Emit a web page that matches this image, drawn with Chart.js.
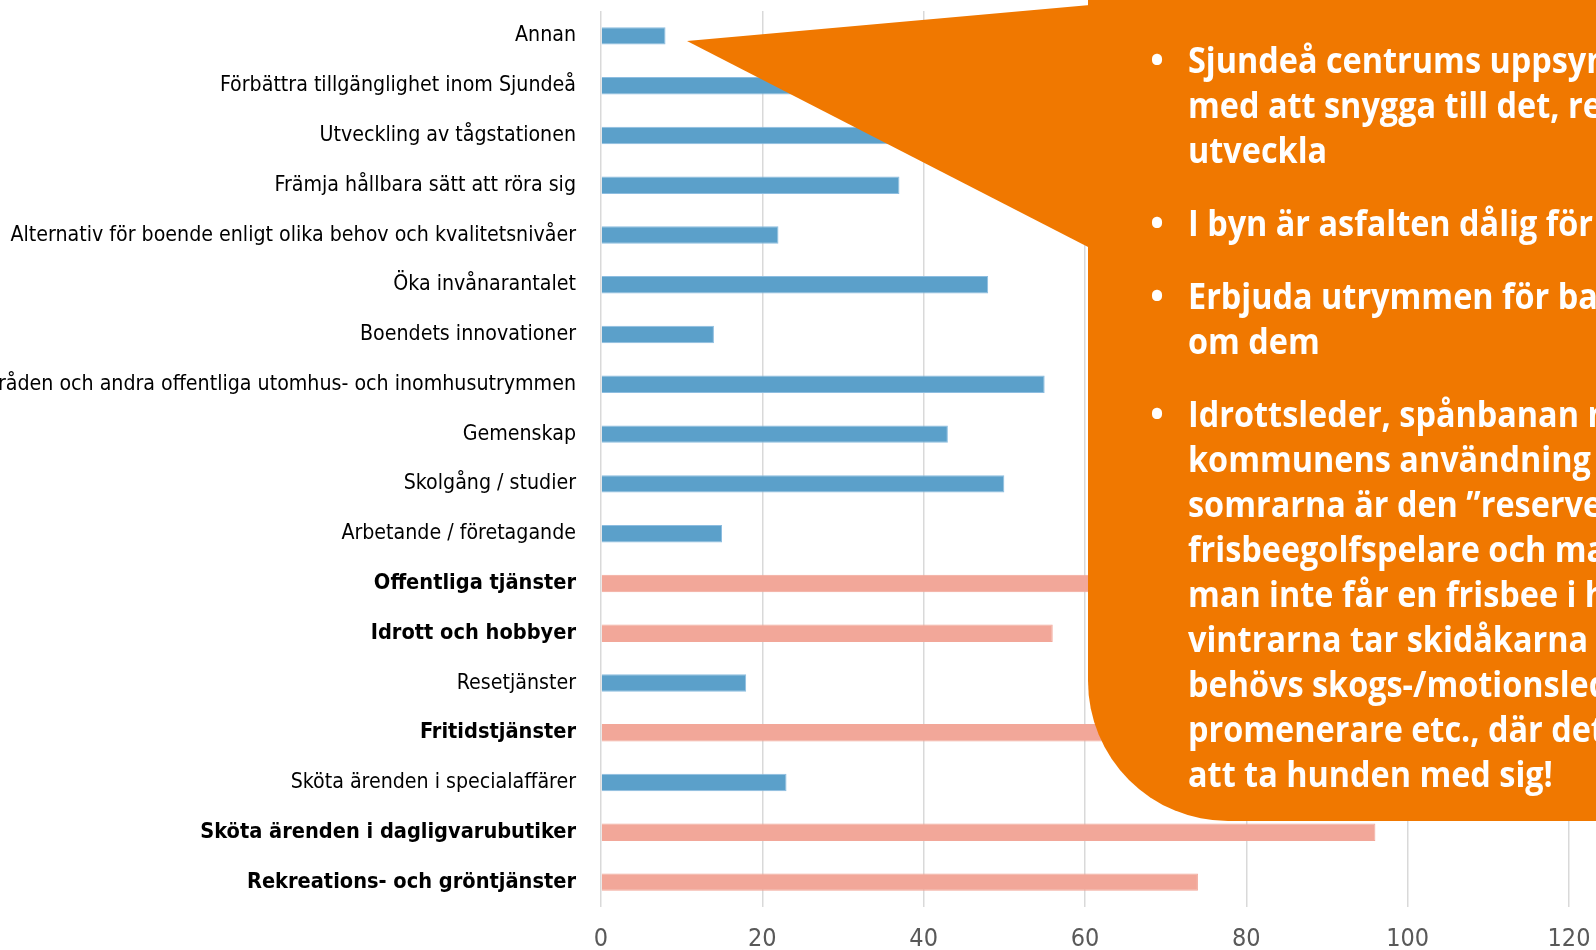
<!DOCTYPE html>
<html>
<head>
<meta charset="utf-8">
<script src="https://cdn.jsdelivr.net/npm/chart.js@4.4.1/dist/chart.umd.min.js"></script>
<style>
  html, body { margin: 0; padding: 0; background: #fff; }
  #wrap { width: 1596px; height: 950px; position: relative; }
</style>
</head>
<body>
<div id="wrap"><canvas id="myChart"></canvas></div>
<script>
// categories, top to bottom
const categories = [
  'Annan',
  'Förbättra tillgänglighet inom Sjundeå',
  'Utveckling av tågstationen',
  'Främja hållbara sätt att röra sig',
  'Alternativ för boende enligt olika behov och kvalitetsnivåer',
  'Öka invånarantalet',
  'Boendets innovationer',
  'Grönområden och andra offentliga utomhus- och inomhusutrymmen',
  'Gemenskap',
  'Skolgång / studier',
  'Arbetande / företagande',
  'Offentliga tjänster',
  'Idrott och hobbyer',
  'Resetjänster',
  'Fritidstjänster',
  'Sköta ärenden i specialaffärer',
  'Sköta ärenden i dagligvarubutiker',
  'Rekreations- och gröntjänster'
];
const values = [8, 30, 40, 37, 22, 48, 14, 55, 43, 50, 15, 82, 56, 18, 88, 23, 96, 74];
// services (bold label, salmon bar)
const highlighted = [false, false, false, false, false, false, false, false, false, false, false,
  true, true, false, true, false, true, true];

const xMin = 0, xMax = 120, xStep = 20;

// callout text, one array per bullet
const bullets = [
  ['Sjundeå centrums uppsyn bör', 'med att snygga till det, renovera', 'utveckla'],
  ['I byn är asfalten dålig för'],
  ['Erbjuda utrymmen för barn', 'om dem'],
  ['Idrottsleder, spånbanan med', 'kommunens användning', 'somrarna är den ”reserverad', 'frisbeegolfspelare och man', 'man inte får en frisbee i huvudet', 'vintrarna tar skidåkarna över', 'behövs skogs-/motionsleder', 'promenerare etc., där det', 'att ta hunden med sig!']
];

const calloutPlugin = {
  id: 'callout',
  afterDraw(chart) {
    const ctx = chart.ctx;
    const left = 1088, bottom = 821, r = 140;
    ctx.save();
    ctx.fillStyle = '#f07800';
    // pointer
    ctx.beginPath();
    ctx.moveTo(687, 41);
    ctx.lineTo(left + 2, 5);
    ctx.lineTo(left + 2, 248);
    ctx.closePath();
    ctx.fill();
    // box
    ctx.beginPath();
    ctx.moveTo(left, -20);
    ctx.lineTo(1700, -20);
    ctx.lineTo(1700, bottom);
    ctx.lineTo(left + r, bottom);
    ctx.arcTo(left, bottom, left, bottom - r, r);
    ctx.closePath();
    ctx.fill();

    ctx.fillStyle = '#fff';
    ctx.font = 'bold 36px "Open Sans"';
    ctx.textBaseline = 'alphabetic';
    let y = 73;
    bullets.forEach((lines, i) => {
      if (i > 0) y += 28;
      ctx.textAlign = 'center';
      ctx.fillText('•', 1157, y);
      ctx.textAlign = 'left';
      lines.forEach(line => {
        ctx.save();
        ctx.translate(1188, y);
        ctx.scale(0.9, 1);
        ctx.fillText(line, 0, 0);
        ctx.restore();
        y += 45;
      });
    });
    ctx.restore();
  }
};

const config = {
  type: 'bar',
  data: {
    labels: categories,
    datasets: [{
      data: values,
      backgroundColor: highlighted.map(h => h ? '#f2a799' : '#5ba0ca'),
      borderColor: highlighted.map(h => h ? '#f2a799' : '#8dbde0'),
      borderWidth: 1,
      barPercentage: 0.35,
      categoryPercentage: 1
    }]
  },
  options: {
    indexAxis: 'y',
    responsive: true,
    maintainAspectRatio: false,
    animation: false,
    layout: { padding: { top: 11, right: 27, left: 0, bottom: 0 } },
    plugins: { legend: { display: false }, tooltip: { enabled: false } },
    scales: {
      x: {
        min: xMin,
        max: xMax,
        ticks: {
          stepSize: xStep,
          color: '#595959',
          padding: 17,
          font: { family: '"DejaVu Sans Condensed", "DejaVu Sans"', size: 25 }
        },
        grid: { color: '#d9d9d9', lineWidth: 1.5, drawTicks: false },
        border: { display: false },
        afterFit(scale) {
          scale.height = 43;
          scale.paddingLeft = 0;
          scale.paddingRight = 0;
        }
      },
      y: {
        ticks: {
          color: '#000',
          autoSkip: false,
          padding: 25,
          font: (c) => ({
            family: '"DejaVu Sans Condensed", "DejaVu Sans"',
            size: highlighted[c.index] ? 21.6 : 21.2,
            weight: highlighted[c.index] ? 'bold' : 'normal'
          })
        },
        grid: { display: false, drawTicks: false },
        border: { display: false },
        afterFit(scale) {
          scale.width = 601;
          scale.paddingTop = 0;
          scale.paddingBottom = 0;
        }
      }
    }
  },
  plugins: [calloutPlugin]
};

var myChart = document.getElementById('myChart').getContext('2d');
var theChart = new Chart(myChart, config);
</script>
</body>
</html>
